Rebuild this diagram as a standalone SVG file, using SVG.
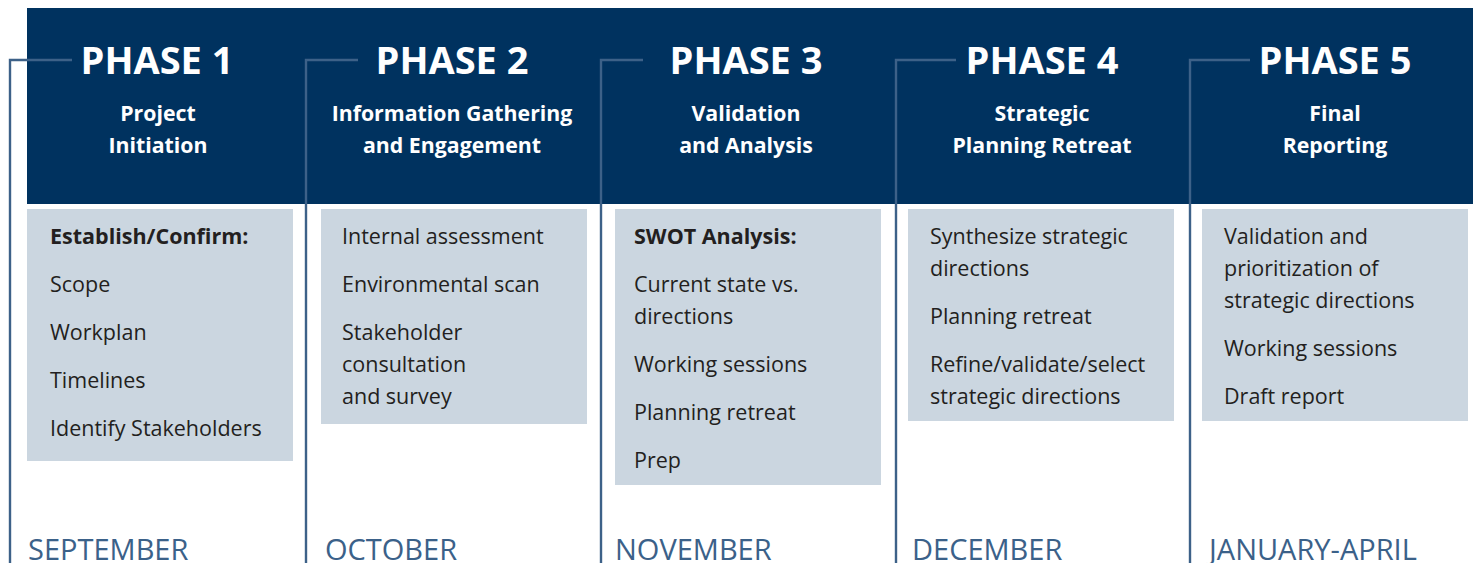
<svg xmlns="http://www.w3.org/2000/svg" width="1473" height="563" viewBox="0 0 1473 563">
  <style>
    .band { fill: #00325f; }
    .card { fill: #cbd6e0; }
    .phase { font-family: "Open Sans", "Liberation Sans", sans-serif; font-weight: 700; font-size: 38px; fill: #ffffff; text-anchor: middle; }
    .sub { font-family: "Open Sans", "Liberation Sans", sans-serif; font-weight: 700; font-size: 21.3px; fill: #ffffff; text-anchor: middle; }
    .item { font-family: "Open Sans", "Liberation Sans", sans-serif; font-size: 21.5px; fill: #231f20; }
    .item.b { font-weight: 700; }
    .month { font-family: "Open Sans", "Liberation Sans", sans-serif; font-size: 29px; fill: #3b6189; }
    .rail { fill: none; stroke: #3d6188; stroke-width: 2.4; }
  </style>

  <!-- header band -->
  <rect class="band" x="27" y="8" width="1446" height="196"/>

  <!-- timeline rails -->
  <g id="connectors">
    <path class="rail" d="M72 60 H10 V563"/>
    <path class="rail" d="M358 60 H306 V563"/>
    <path class="rail" d="M643 60 H601 V563"/>
    <path class="rail" d="M956 60 H896 V563"/>
    <path class="rail" d="M1250 60 H1190 V563"/>
  </g>

  <g id="phase1">
    <text class="phase" x="157" y="74">PHASE 1</text>
    <text class="sub" x="158" y="121">Project</text>
    <text class="sub" x="158" y="153">Initiation</text>
    <rect class="card" x="27" y="209" width="266" height="252"/>
    <text class="item b" x="50" y="244">Establish/Confirm:</text>
    <text class="item" x="50" y="292">Scope</text>
    <text class="item" x="50" y="340">Workplan</text>
    <text class="item" x="50" y="388">Timelines</text>
    <text class="item" x="50" y="436">Identify Stakeholders</text>
    <text class="month" x="28" y="560">SEPTEMBER</text>
  </g>

  <g id="phase2">
    <text class="phase" x="452" y="74">PHASE 2</text>
    <text class="sub" x="452" y="121">Information Gathering</text>
    <text class="sub" x="452" y="153">and Engagement</text>
    <rect class="card" x="321" y="209" width="266" height="215"/>
    <text class="item" x="342" y="244">Internal assessment</text>
    <text class="item" x="342" y="292">Environmental scan</text>
    <text class="item" x="342" y="340">Stakeholder</text>
    <text class="item" x="342" y="372">consultation</text>
    <text class="item" x="342" y="404">and survey</text>
    <text class="month" x="325" y="560">OCTOBER</text>
  </g>

  <g id="phase3">
    <text class="phase" x="746" y="74">PHASE 3</text>
    <text class="sub" x="746" y="121">Validation</text>
    <text class="sub" x="746" y="153">and Analysis</text>
    <rect class="card" x="615" y="209" width="266" height="276"/>
    <text class="item b" x="634" y="244">SWOT Analysis:</text>
    <text class="item" x="634" y="292">Current state vs.</text>
    <text class="item" x="634" y="324">directions</text>
    <text class="item" x="634" y="372">Working sessions</text>
    <text class="item" x="634" y="420">Planning retreat</text>
    <text class="item" x="634" y="468">Prep</text>
    <text class="month" x="615" y="560">NOVEMBER</text>
  </g>

  <g id="phase4">
    <text class="phase" x="1042" y="74">PHASE 4</text>
    <text class="sub" x="1042" y="121">Strategic</text>
    <text class="sub" x="1042" y="153">Planning Retreat</text>
    <rect class="card" x="908" y="209" width="266" height="212"/>
    <text class="item" x="930" y="244">Synthesize strategic</text>
    <text class="item" x="930" y="276">directions</text>
    <text class="item" x="930" y="324">Planning retreat</text>
    <text class="item" x="930" y="372">Refine/validate/select</text>
    <text class="item" x="930" y="404">strategic directions</text>
    <text class="month" x="912" y="560">DECEMBER</text>
  </g>

  <g id="phase5">
    <text class="phase" x="1335" y="74">PHASE 5</text>
    <text class="sub" x="1335" y="121">Final</text>
    <text class="sub" x="1335" y="153">Reporting</text>
    <rect class="card" x="1202" y="209" width="266" height="212"/>
    <text class="item" x="1224" y="244">Validation and</text>
    <text class="item" x="1224" y="276">prioritization of</text>
    <text class="item" x="1224" y="308">strategic directions</text>
    <text class="item" x="1224" y="356">Working sessions</text>
    <text class="item" x="1224" y="404">Draft report</text>
    <text class="month" x="1209" y="560">JANUARY-APRIL</text>
  </g>
</svg>
